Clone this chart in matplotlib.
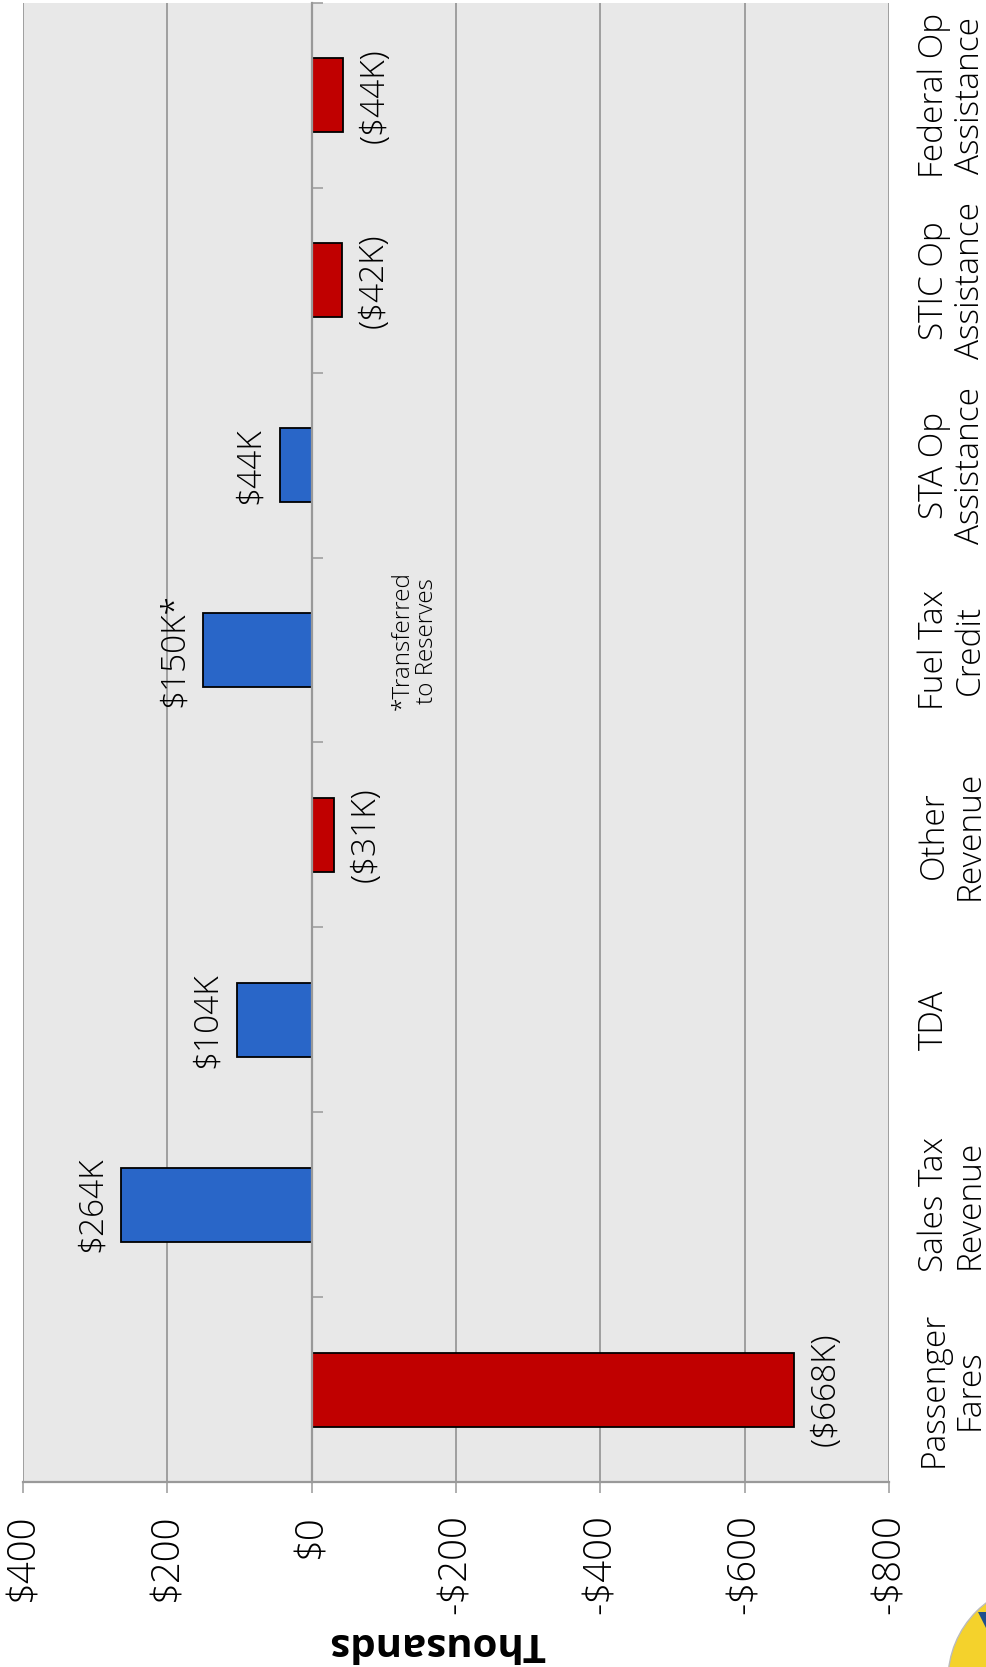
import numpy as np
import matplotlib
matplotlib.use("Agg")
import matplotlib.pyplot as plt
from matplotlib.patches import Circle, Polygon

plt.rcParams['font.family'] = ['Open Sans', 'DejaVu Sans']
plt.rcParams['font.weight'] = 'light'

# данные (тыс. $)
categories = ["Passenger\nFares", "Sales Tax\nRevenue", "TDA", "Other\nRevenue",
              "Fuel Tax\nCredit", "STA Op\nAssistance", "STIC Op\nAssistance",
              "Federal Op\nAssistance"]
values = [-668, 264, 104, -31, 150, 44, -42, -44]
bar_labels = ["($668K)", "$264K", "$104K", "($31K)", "$150K*", "$44K", "($42K)", "($44K)"]
x_ticks = [400, 200, 0, -200, -400, -600, -800]
x_tick_labels = ["$400", "$200", "$0", "-$200", "-$400", "-$600", "-$800"]

blue = "#2966C8"
red = "#C00000"
grid_c = "#999999"

fig = plt.figure(figsize=(9.87, 16.67), dpi=100)
ax = fig.add_axes([23/987, 185/1667, 866/987, 1479/1667])
ax.set_facecolor("#E8E8E8")

pos = np.arange(len(categories))
colors = [blue if v > 0 else red for v in values]
ax.barh(pos, values, height=0.4, color=colors, edgecolor="black", linewidth=1.3, zorder=3)

ax.set_xlim(400, -800)
ax.set_ylim(-0.5, len(categories) - 0.5)

# сетка и ось X
ax.set_xticks(x_ticks)
ax.set_xticklabels(x_tick_labels, rotation=90, fontsize=27.5, va="top")
ax.grid(axis="x", color=grid_c, linewidth=1.3, zorder=0)
ax.tick_params(axis="x", length=8, width=1.1, color=grid_c, pad=15)

# ось категорий у нуля
for s in ["top", "right"]:
    ax.spines[s].set_visible(False)
ax.spines["bottom"].set_color(grid_c)
ax.spines["bottom"].set_linewidth(1.6)
ax.spines["left"].set_position(("data", 0))
ax.spines["left"].set_color(grid_c)
ax.spines["left"].set_linewidth(1.6)
ax.spines["left"].set_zorder(4)

ax.set_yticks(pos)
ax.set_yticklabels(categories, rotation=90, fontsize=24, multialignment="center",
                   ha="left", va="center", linespacing=1.08)
ax.tick_params(axis="y", which="major", left=False, right=False,
               labelleft=False, labelright=True, pad=17)
ax.set_yticks(np.arange(-0.5, len(categories)), minor=True)
ax.tick_params(axis="y", which="minor", left=True, right=False, direction="in",
               length=8, width=1.1, color=grid_c)

# подписи столбцов
for p, v, lab in zip(pos, values, bar_labels):
    off = -21 if v > 0 else 23
    ax.annotate(lab, (v, p), xytext=(off, 0), textcoords="offset points",
                rotation=90, ha="center", va="center", fontsize=24, zorder=5)

ax.text(-143, 4.05, "*Transferred\nto Reserves", rotation=90, ha="center", va="center",
        fontsize=17.5, multialignment="center", linespacing=1.05, zorder=5)

ax.set_xlabel("Thousands", fontsize=29, fontweight="bold", rotation=180, va="center")
ax.xaxis.set_label_coords(0.478, -0.109)

# кусок логотипа в углу
fig.patches.append(Circle((1045, 1667 - 1680), 97, transform=None, facecolor="#F4D22C",
                          edgecolor="#BBBBBB", linewidth=1, zorder=0))
fig.patches.append(Polygon([(978, 1667 - 1612), (990, 1667 - 1612), (987, 1667 - 1630)],
                           closed=True, transform=None, facecolor="#1F4E8C", zorder=1))

fig.savefig("out.png", dpi=100, facecolor="white")
